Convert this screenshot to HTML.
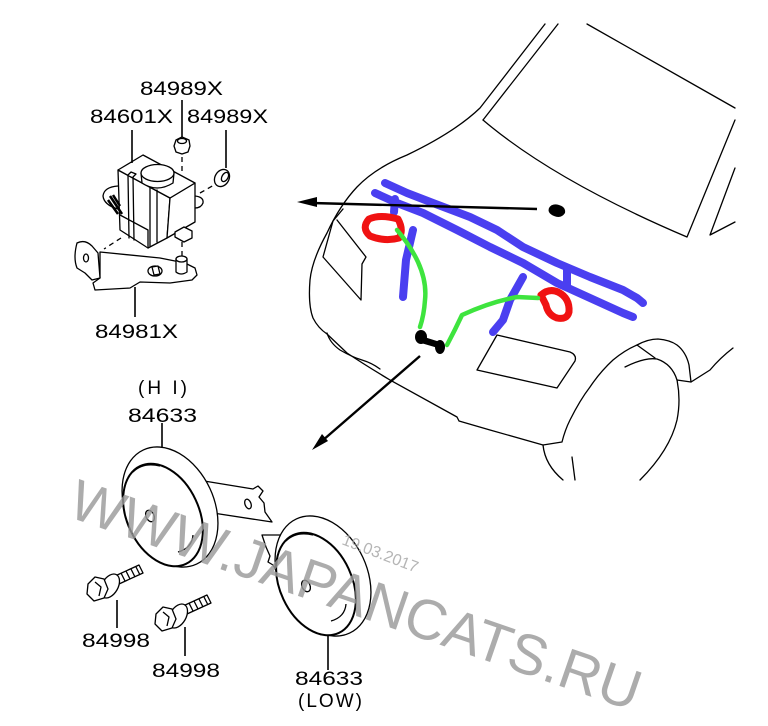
<!DOCTYPE html>
<html><head><meta charset="utf-8"><style>
html,body{margin:0;padding:0;background:#fff;}
svg{display:block;}
text{font-family:"Liberation Sans",Arial,sans-serif;}
</style></head><body>
<svg width="768" height="726" viewBox="0 0 768 726" xmlns="http://www.w3.org/2000/svg">
<rect width="768" height="726" fill="#fff"/>

<!-- ===== CAR ===== -->
<g fill="none" stroke="#000" stroke-width="1.3" stroke-linejoin="round" stroke-linecap="round">
  <path d="M545,24 L480,108 Q455,132 407,155 Q375,168 357,187 Q340,205 327,233 Q312,260 310,280 Q308,305 313,318 Q318,328 327,334 L347,353 Q365,365 390,380 L457,417 L459,421 L490,430 L543,445 L562,442 Q565,430 570,420 Q580,400 590,387 Q600,372 613,360 Q625,350 637,345 Q648,339 658,339 Q670,340 677,345 Q686,352 689,365 L691,382 L710,370 Q720,358 733,348"/>
  <path d="M327,333 Q330,343 340,350 Q352,357 362,360 Q372,363 380,369"/>
  <path d="M558,24 L483,120"/>
  <path d="M483,120 C530,160 600,200 687,237 L735,120"/>
  <path d="M587,24 L735,108"/>
  <path d="M735,168 L710,235 L735,222"/>
  <path d="M343,209 L333,221 L323,257 L361,300 L362,264 L366,257 L337,220"/>
  <path d="M497,335 L570,352 Q577,355 575,361 L557,388 L477,370 Z"/>
  <path d="M625,367 Q645,357 657,359 Q672,364 677,380 Q681,400 677,420 Q670,450 640,480"/>
  <path d="M637,345 L655,358"/>
  <path d="M677,380 L691,382"/>
  <path d="M543,445 Q545,465 563,480"/>
  <path d="M572,457 L575,480"/>
</g>

<!-- blue harness -->
<g fill="none" stroke="#4a3ff0" stroke-width="8" stroke-linecap="round" stroke-linejoin="round">
  <path d="M385,183 L407,193 L433,203 L470,217 L497,230 L523,247 L557,263 L590,277 L623,290 L637,298 L643,303"/>
  <path d="M375,193 L397,203 L423,213 L457,230 L490,247 L523,263 L557,283 L590,298 L623,313 L633,317"/>
  <path d="M395,199 L394,212"/>
  <path d="M413,230 L406,260 L403,297"/>
  <path d="M567,270 L567,287"/>
  <path d="M523,277 L510,300 L503,320 L493,332"/>
</g>
<!-- red -->
<g fill="none" stroke="#f01212" stroke-width="7" stroke-linejoin="round">
  <path d="M398,219 Q380,214 369,219 Q361,228 370,236 Q385,242 399,238 Q404,230 398,219 Z"/>
  <path d="M541,295 Q549,288 558,292 Q570,298 569,312 Q567,320 557,318 Q548,315 546,305 Z"/>
</g>
<!-- green -->
<g fill="none" stroke="#3ee43e" stroke-width="4.5" stroke-linecap="round" stroke-linejoin="round">
  <path d="M397,230 Q410,245 418,262 Q427,282 425,300 Q424,315 420,327"/>
  <path d="M447,345 Q455,330 462,315 Q490,302 517,297 L538,298"/>
</g>
<!-- black blobs -->
<g fill="#000">
  <ellipse cx="421" cy="337" rx="6" ry="7"/>
  <ellipse cx="440" cy="347" rx="5" ry="7"/>
  <path d="M421,336 L440,342 L438,348 L421,343 Z"/>
  <path d="M549,208 Q552,203 559,205 Q566,207 565,213 Q561,219 554,216 Q547,213 549,208 Z"/>
</g>
<!-- arrows -->
<g stroke="#000" stroke-width="2.4" fill="none">
  <path d="M537,209 L312,203"/>
  <path d="M420,356 L322,441"/>
</g>
<polygon points="297,202 317,197 317,207" fill="#000"/>
<polygon points="312,450 328,441 322,434" fill="#000"/>

<!-- ===== RELAY ===== -->
<g fill="#fff" stroke="#000" stroke-width="1.3" stroke-linejoin="round" stroke-linecap="round">
  <path d="M100,252 L160,258 L185,263 L195,268 L197,275 L192,280 L170,283 L140,282 L130,288 L95,290 L93,283 L100,278 Z"/>
  <path d="M77,243 Q85,239 92,246 L98,253 L100,278 L92,280 L85,273 L77,268 Q73,258 77,243 Z"/>
  <ellipse cx="86" cy="258" rx="2.5" ry="4"/>
  <ellipse cx="155" cy="271" rx="7" ry="5"/>
  <path d="M152,267 L158,266 L160,274 L154,275 Z" fill="#fff"/>
  <path d="M176,259 L176,272 Q181,276 187,272 L187,259"/>
  <ellipse cx="181.5" cy="259" rx="5.5" ry="3"/>
  <path d="M118,186 Q104,187 103,196 Q104,205 118,209"/>
  <path d="M195,196 Q204,197 203,203 Q201,208 195,208"/>
  <path d="M118,170 L170,198 L167,238 L148,248 L120,230 Z"/>
  <path d="M170,198 L195,183 L195,222 L167,238 Z"/>
  <path d="M118,170 L143,155 L195,183 L170,198 Z"/>
  <path d="M120,215 L148,230 L148,248"/>
  <path d="M128,175 L129,238 M133,177 L134,240 M150,187 L150,246 M157,190 L157,242" fill="none"/>
  <path d="M128,175 L131,172 L136,174 L133,177" />
  <path d="M141,173 L142,183 Q157,193 173,183 L174,173"/>
  <ellipse cx="157.5" cy="173" rx="16.5" ry="8.5"/>
  <path d="M175,232 L184,227 L192,231 L192,238 L184,242 L175,237 Z"/>
  <path d="M174,146 L176,140 L182,137 L189,140 L190,146 L188,152 L182,154 L176,152 Z"/>
  <ellipse cx="182" cy="141" rx="4.5" ry="2.5"/>
  <ellipse cx="222" cy="178" rx="7" ry="9" transform="rotate(30 222 178)"/>
  <ellipse cx="225" cy="177" rx="3" ry="5" transform="rotate(30 225 177)"/>
</g>
<path d="M110,196 L122,214 M113,195 L120,206 M108,200 L118,214" stroke="#000" stroke-width="2.5"/>
<g stroke="#000" stroke-width="1.3" fill="none" stroke-dasharray="5,4">
  <path d="M182,157 L182,172"/>
  <path d="M200,193 L214,185"/>
  <path d="M182,242 L182,256"/>
  <path d="M121,238 L104,249"/>
</g>
<!-- leaders -->
<g stroke="#000" stroke-width="1.6">
  <path d="M132,130 L132,163"/>
  <path d="M182,100 L182,137"/>
  <path d="M226,130 L226,168"/>
  <path d="M135,287 L135,317"/>
  <path d="M162,423 L162,450"/>
  <path d="M328,632 L328,670"/>
  <path d="M117,600 L117,628"/>
  <path d="M185,627 L185,656"/>
</g>

<!-- ===== HORNS ===== -->
<g fill="#fff" stroke="#000" stroke-width="1.3" stroke-linejoin="round">
  <path d="M198,480 L253,489 L258,486 L263,491 L259,497 L264,503 L265,512 L272,522 L213,513 Z"/>
  <ellipse cx="248" cy="504" rx="3" ry="5" transform="rotate(-20 248 504)"/>
  <ellipse cx="0" cy="0" rx="44" ry="63" transform="translate(170,507) rotate(-25)"/>
  <ellipse cx="0" cy="0" rx="36" ry="54" stroke-width="2" transform="translate(163,515) rotate(-25)"/>
  <ellipse cx="0" cy="0" rx="4" ry="6" transform="translate(150,516) rotate(-25)"/>
  <path d="M133,472 Q143,462 160,466" fill="none"/>
  <path d="M178,552 Q192,548 193,535" fill="none"/>
  <path d="M262,535 L281,535 L283,572 L277,572 L273,565 L268,562 L270,556 L266,547 L264,541 Z"/>
  <ellipse cx="0" cy="0" rx="44" ry="63" transform="translate(323,576) rotate(-25)"/>
  <ellipse cx="0" cy="0" rx="36" ry="54" stroke-width="2" transform="translate(316,584) rotate(-25)"/>
  <ellipse cx="0" cy="0" rx="4" ry="6" transform="translate(306,586) rotate(-25)"/>
  <path d="M286,541 Q296,531 313,535" fill="none"/>
  <path d="M331,621 Q345,617 346,604" fill="none"/>

  <path d="M115,576 L139,565 L143,573 L119,584 Z"/>
  <path d="M121,573 L125,581 M126,571 L130,579 M131,569 L135,577 M136,567 L140,575" fill="none"/>
  <ellipse cx="0" cy="0" rx="8" ry="13" transform="translate(110,586) rotate(30)"/>
  <path d="M88,584 L95,577 L104,579 L108,589 L104,598 L94,601 L87,594 Z"/>
  <path d="M95,582 L101,587 L99,596" fill="none"/>
  <path d="M183,606 L207,595 L211,603 L187,614 Z"/>
  <path d="M189,603 L193,611 M194,601 L198,609 M199,599 L203,607 M204,597 L208,605" fill="none"/>
  <ellipse cx="0" cy="0" rx="8" ry="13" transform="translate(178,616) rotate(30)"/>
  <path d="M156,614 L163,607 L172,609 L176,619 L172,628 L162,631 L155,624 Z"/>
  <path d="M163,612 L169,617 L167,626" fill="none"/>
</g>

<!-- ===== LABELS ===== -->
<g font-size="19" fill="#000">
  <text x="140" y="95" textLength="83" lengthAdjust="spacingAndGlyphs">84989X</text>
  <text x="90" y="123" textLength="83" lengthAdjust="spacingAndGlyphs">84601X</text>
  <text x="187" y="123" textLength="81" lengthAdjust="spacingAndGlyphs">84989X</text>
  <text x="95" y="338" textLength="83" lengthAdjust="spacingAndGlyphs">84981X</text>
  <text x="138" y="394" textLength="49" lengthAdjust="spacing">(H I)</text>
  <text x="128" y="422" textLength="69" lengthAdjust="spacingAndGlyphs">84633</text>
  <text x="82" y="647" textLength="68" lengthAdjust="spacingAndGlyphs">84998</text>
  <text x="152" y="677" textLength="68" lengthAdjust="spacingAndGlyphs">84998</text>
  <text x="295" y="685" textLength="68" lengthAdjust="spacingAndGlyphs">84633</text>
  <text x="298" y="707" textLength="64" lengthAdjust="spacing">(LOW)</text>
</g>

<!-- watermark on top, semi-transparent -->
<text transform="translate(66,516) rotate(19)" font-size="57" fill="#9a9a9a" fill-opacity="0.82">WWW.JAPANCATS.RU</text>
<text transform="translate(341,544) rotate(21)" font-size="16" fill="#a8a8a8" fill-opacity="0.85">19.03.2017</text>
</svg>
</body></html>
